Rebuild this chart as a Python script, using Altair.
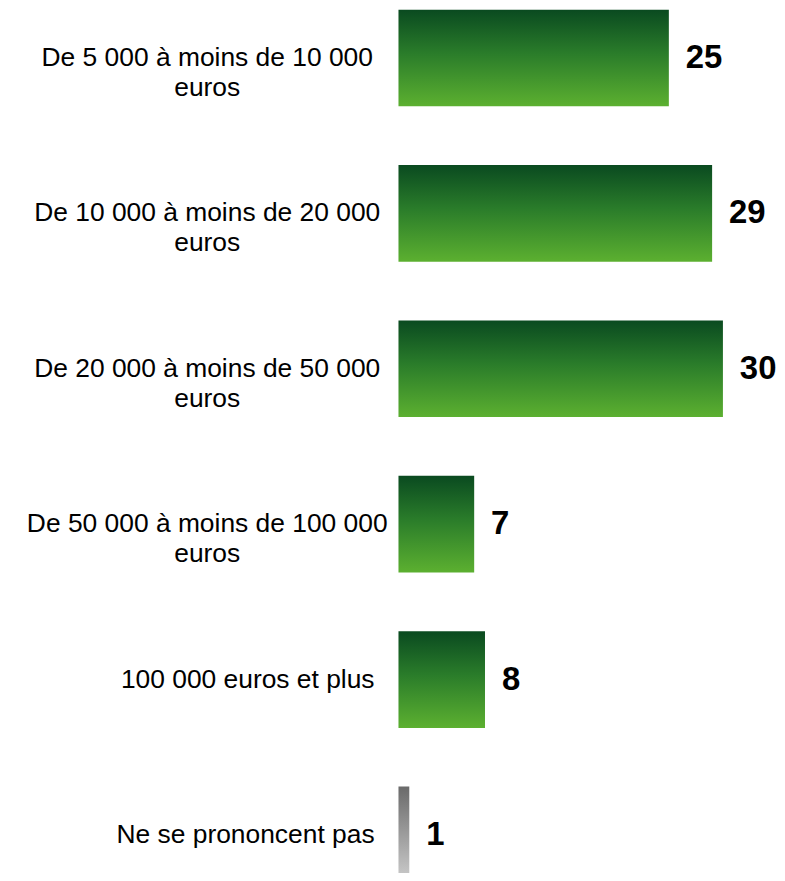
import altair as alt
import pandas as pd

categories = [
    "De 5 000 à moins de 10 000\neuros",
    "De 10 000 à moins de 20 000\neuros",
    "De 20 000 à moins de 50 000\neuros",
    "De 50 000 à moins de 100 000\neuros",
    "100 000 euros et plus",
    "Ne se prononcent pas",
]
values = [25, 29, 30, 7, 8, 1]
groups = ["main", "main", "main", "main", "main", "nsp"]

df = pd.DataFrame({"cat": categories, "val": values, "grp": groups})

FONT = "Arial, Liberation Sans"

green = alt.Gradient(
    gradient="linear", x1=0, y1=0, x2=0, y2=1,
    stops=[alt.GradientStop(color="#0a4a20", offset=0),
           alt.GradientStop(color="#2a7c2a", offset=0.45),
           alt.GradientStop(color="#5cb030", offset=1)],
)
gray = alt.Gradient(
    gradient="linear", x1=0, y1=0, x2=0, y2=1,
    stops=[alt.GradientStop(color="#6a6a6a", offset=0),
           alt.GradientStop(color="#cfcfcf", offset=1)],
)

yenc = alt.Y("cat:N", sort=None, axis=None,
             scale=alt.Scale(paddingInner=0.378, paddingOuter=0, range=[0, 877]))
xenc = alt.X("val:Q", axis=None, scale=alt.Scale(domain=[0, 35]))

base = alt.Chart(df)

bars_green = base.transform_filter("datum.grp == 'main'").mark_bar(
    color=green).encode(x=xenc, y=yenc)
bars_gray = base.transform_filter("datum.grp == 'nsp'").mark_bar(
    color=gray).encode(x=xenc, y=yenc)

vals = base.mark_text(align="left", baseline="middle", dx=17, font=FONT,
                      fontSize=33, fontWeight="bold", color="#000000").encode(
    x=xenc, y=yenc, text="val:Q")

multi = base.transform_filter("indexof(datum.cat, '\\n') >= 0").mark_text(
    align="center", baseline="middle", lineBreak="\n", lineHeight=30,
    font=FONT, fontSize=26.5, color="#000000").encode(
    x=alt.value(-192), y=yenc, text="cat:N")

single = base.transform_filter("indexof(datum.cat, '\\n') < 0").mark_text(
    align="right", baseline="middle", font=FONT, fontSize=26.5,
    color="#000000").encode(
    x=alt.value(-24), y=yenc, text="cat:N")

chart = alt.layer(bars_green, bars_gray, vals, multi, single).properties(
    width=380, height=865,
    autosize=alt.AutoSizeParams(type="none"),
    padding={"left": 392, "top": 0, "right": 0, "bottom": 0},
).configure_view(stroke=None)

chart.save("out.html", embed_options={"renderer": "svg", "actions": False})
